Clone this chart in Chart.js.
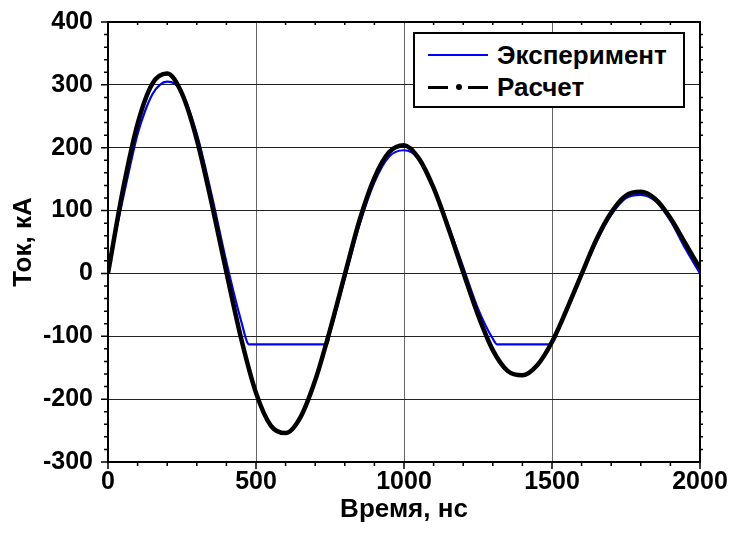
<!DOCTYPE html>
<html><head><meta charset="utf-8">
<script src="https://cdn.jsdelivr.net/npm/chart.js@4/dist/chart.umd.min.js"></script>
<style>
html,body{margin:0;padding:0;background:#fff;}
#wrap{position:relative;width:730px;height:541px;overflow:hidden;}
#legend{position:absolute;left:413px;top:32px;width:268px;height:72px;border:2px solid #000;background:#fff;font:bold 26px "Liberation Sans",Arial,sans-serif;color:#000;}
.row{position:absolute;left:0;width:100%;height:30px;}
.lbl{position:absolute;left:82px;top:0;line-height:30px;white-space:nowrap;}
.seg{position:absolute;}
</style></head>
<body>
<div id="wrap">
<canvas id="c" width="730" height="541"></canvas>
<div id="legend">
  <div class="row" style="top:6px">
    <div class="seg" style="left:13px;top:14px;width:60px;height:2px;background:#0000ff"></div>
    <span class="lbl">Эксперимент</span>
  </div>
  <div class="row" style="top:38px">
    <div class="seg" style="left:13px;top:14px;width:20px;height:3px;background:#000"></div>
    <div class="seg" style="left:41px;top:12px;width:6px;height:6px;border-radius:3px;background:#000"></div>
    <div class="seg" style="left:53px;top:14px;width:20px;height:3px;background:#000"></div>
    <span class="lbl">Расчет</span>
  </div>
</div>
</div>
<script>
// ---- data ----
const calcTime = [0,50,100,150,200,250,300,350,400,450,500,550,600,650,700,750,800,850,900,950,1000,
  1050,1100,1150,1200,1250,1300,1350,1400,1450,1500,1550,1600,1650,1700,1750,1800,1850,1900,1950,2000];
const calcCurrent = [0,132,238,302,318,286,213,112,2,-104,-190,-242,-254,-229,-170,-90,-2,85,152,193,204,
  183,136,72,2,-66,-122,-155,-162,-146,-109,-57,-1,54,97,124,130,118,88,48,8];

const expTime = [0,25,50,75,100,125,150,175,200,225,250,300,350,400,450,477,
  740,750,800,850,900,950,1000,1050,1100,1150,1200,1250,1300,1315,
  1490,1500,1550,1600,1650,1700,1750,1800,1850,1900,1950,2000];
const expCurrent = [0,62,118,172,222,258,285,300,305,302,288,222,125,18,-76,-113,
  -113,-95,-8,78,145,186,196,182,138,76,10,-56,-104,-113,
  -113,-106,-58,-3,50,93,120,125,115,84,40,0];

const xTicks = [0,500,1000,1500,2000];
const yTicks = [-300,-200,-100,0,100,200,300,400];
const xTitle = 'Время, нс';
const yTitle = 'Ток, кА';
const seriesNames = ['Расчет','Эксперимент'];

const toXY = (xs, ys) => xs.map((t,i)=>({x:t, y:ys[i]}));
const FAM = '"Liberation Sans", Arial, sans-serif';
const TICKFONT = {family:FAM, size:25, weight:'bold'};
const TITLEFONT = {family:FAM, size:26, weight:'bold'};

const tickPlugin = {
  id:'frameTicks',
  afterDraw(chart){
    const {ctx, chartArea:a, scales:{x,y}} = chart;
    ctx.save();
    ctx.strokeStyle='#000';
    ctx.lineWidth=1.5;
    ctx.beginPath();
    for (let v=0; v<=2000; v+=100){
      const px=x.getPixelForValue(v);
      const major = v%500===0;
      ctx.moveTo(px,a.bottom); ctx.lineTo(px,a.bottom+(major?7:4));
      if(!major){ ctx.moveTo(px,a.top); ctx.lineTo(px,a.top+3); }
    }
    for (let v=-300; v<=400; v+=20){
      const py=y.getPixelForValue(v);
      const major = v%100===0;
      ctx.moveTo(a.left,py); ctx.lineTo(a.left-(major?7:4),py);
      if(!major){ ctx.moveTo(a.right,py); ctx.lineTo(a.right+3,py); }
    }
    ctx.stroke();
    ctx.lineWidth=2;
    ctx.strokeRect(a.left,a.top,a.right-a.left,a.bottom-a.top);
    ctx.restore();
  }
};

const noPad = s => { s.paddingTop=0; s.paddingBottom=0; s.paddingLeft=0; s.paddingRight=0; };

new Chart(document.getElementById('c'), {
  type:'line',
  data:{
    datasets:[
      {label:seriesNames[0], data:toXY(calcTime,calcCurrent), borderColor:'#000', borderWidth:4.5,
       pointRadius:0, cubicInterpolationMode:'monotone', order:0},
      {label:seriesNames[1], data:toXY(expTime,expCurrent), borderColor:'#0000ff', borderWidth:2.2,
       pointRadius:0, cubicInterpolationMode:'monotone', order:1}
    ]
  },
  options:{
    responsive:false, animation:false, devicePixelRatio:1,
    layout:{padding:{top:22,right:30,left:0,bottom:0}},
    plugins:{legend:{display:false}, tooltip:{enabled:false}},
    scales:{
      x:{type:'linear', min:0, max:2000,
        afterBuildTicks:s=>{s.ticks = xTicks.map(v=>({value:v}));},
        afterFit:s=>{s.height=79; noPad(s);},
        ticks:{font:TICKFONT, color:'#000', padding:5, maxRotation:0, callback:v=>String(v)},
        grid:{color:'#666', lineWidth:1, drawTicks:false},
        border:{display:false},
        title:{display:true, text:xTitle, font:TITLEFONT, color:'#000', padding:{top:0,bottom:16}}
      },
      y:{type:'linear', min:-300, max:400,
        afterBuildTicks:s=>{s.ticks = yTicks.map(v=>({value:v}));},
        afterFit:s=>{s.width=108; noPad(s);},
        ticks:{font:TICKFONT, color:'#000', padding:15, callback:v=>String(v)},
        grid:{color:'#222', lineWidth:1, drawTicks:false},
        border:{display:false},
        title:{display:true, text:yTitle, font:TITLEFONT, color:'#000', padding:{top:8,bottom:0}}
      }
    }
  },
  plugins:[tickPlugin]
});
</script>
</body></html>
